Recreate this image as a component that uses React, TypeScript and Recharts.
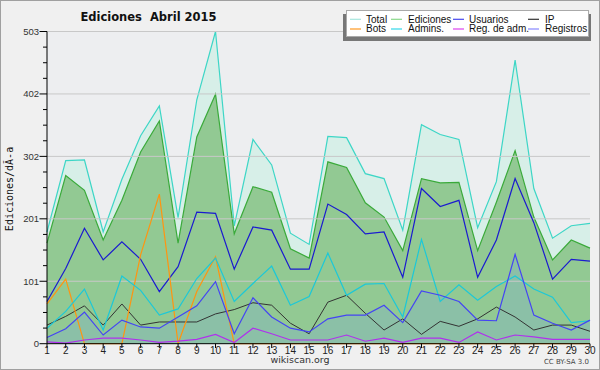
import React from 'react';
import { ComposedChart, Area, Line, XAxis, YAxis, ReferenceLine } from 'recharts';

// días del mes
const days = [1, 2, 3, 4, 5, 6, 7, 8, 9, 10, 11, 12, 13, 14, 15, 16, 17, 18, 19, 20, 21, 22, 23, 24, 25, 26, 27, 28, 29, 30];

// series
const total = [180, 295, 296, 180, 265, 335, 383, 203, 393, 503, 190, 329, 288, 178, 160, 334, 332, 274, 266, 183, 353, 337, 329, 187, 261, 457, 250, 170, 190, 194];
const ediciones = [162, 271, 247, 167, 231, 309, 359, 162, 333, 402, 177, 253, 244, 153, 138, 293, 284, 227, 204, 150, 266, 259, 260, 150, 228, 311, 204, 135, 167, 154];
const usuarios = [68, 121, 186, 135, 164, 136, 84, 124, 212, 210, 120, 188, 183, 120, 120, 225, 208, 177, 180, 107, 250, 221, 231, 107, 167, 266, 195, 104, 136, 133];
const ip = [30, 44, 61, 30, 64, 30, 35, 35, 35, 48, 55, 66, 62, 33, 16, 67, 78, 49, 22, 40, 15, 36, 28, 40, 59, 43, 22, 30, 30, 20];
const bots = [64, 104, 0, 0, 0, 143, 241, 0, 84, 140, 0, 0, 0, 0, 0, 0, 0, 0, 0, 0, 0, 0, 0, 0, 0, 0, 0, 0, 0, 0];
const admins = [25, 52, 88, 22, 109, 86, 46, 56, 105, 138, 68, 97, 125, 62, 76, 146, 78, 96, 97, 43, 168, 68, 95, 70, 92, 109, 88, 75, 34, 37];
const regAdm = [3, 1, 6, 9, 9, 6, 2, 4, 7, 15, 2, 25, 16, 6, 6, 6, 14, 4, 9, 2, 9, 9, 2, 19, 6, 14, 11, 7, 7, 7];
const registros = [10, 24, 51, 14, 38, 27, 25, 43, 61, 100, 16, 74, 43, 25, 19, 40, 46, 46, 62, 34, 85, 78, 68, 38, 37, 144, 46, 33, 22, 38];

// etiquetas del eje Y
const yLabels = ['0', '101', '201', '302', '402', '503'];
const yMax = 503;

const legendItems = [
  { name: 'Total', color: '#a6e6de', col: 0, row: 0 },
  { name: 'Ediciones', color: '#8ad88a', col: 1, row: 0 },
  { name: 'Usuarios', color: '#4848ee', col: 2, row: 0 },
  { name: 'IP', color: '#333333', col: 3, row: 0 },
  { name: 'Bots', color: '#ff9a22', col: 0, row: 1 },
  { name: 'Admins.', color: '#33d8ea', col: 1, row: 1 },
  { name: 'Reg. de adm.', color: '#dd44ee', col: 2, row: 1 },
  { name: 'Registros', color: '#8888ff', col: 3, row: 1 },
];
const legendLineX = [350, 391, 453, 528];
const legendTextX = [366, 408, 469, 545];

const data = days.map((d, i) => ({
  day: d,
  total: total[i],
  ediciones: ediciones[i],
  usuarios: usuarios[i],
  ip: ip[i],
  bots: bots[i],
  admins: admins[i],
  regAdm: regAdm[i],
  registros: registros[i],
}));

// 5 intervalos principales, 4 subdivisiones cada uno
const yTicks = Array.from({ length: 21 }, (_, i) => (yMax * i) / 20);

const YTick = (props: any) => {
  const { y, index } = props;
  const major = index % 4 === 0;
  return (
    <g>
      <line x1={major ? 39.5 : 43} x2={47} y1={y} y2={y} stroke="#000" strokeWidth={1} />
      {major && (
        <text x={39} y={y} dy="0.35em" textAnchor="end" fontSize={9.5} fill="#333" fontFamily="Liberation Sans, sans-serif">
          {yLabels[index / 4]}
        </text>
      )}
    </g>
  );
};

const XTick = (props: any) => {
  const { x, payload } = props;
  return (
    <g>
      <line x1={x} x2={x} y1={343.7} y2={348} stroke="#000" strokeWidth={1} />
      <text x={x} y={353.5} textAnchor="middle" fontSize={10} fill="#222" fontFamily="Liberation Sans, sans-serif">
        {payload.value}
      </text>
    </g>
  );
};

const App = () => {
  return (
    <div style={{ position: 'absolute', left: 0, top: 0, width: 600, height: 370, background: '#f0f0f0' }}>
      <ComposedChart
        width={600}
        height={370}
        data={data}
        margin={{ top: 31.5, right: 10, left: 0, bottom: 0 }}
        style={{ position: 'absolute', left: 0, top: 0 }}
      >
        <rect x={47} y={31.5} width={543} height={312.2} fill="#edeef0" />
        <XAxis
          type="number"
          dataKey="day"
          domain={[1, 30]}
          ticks={days}
          interval={0}
          height={26.3}
          tickLine={false}
          tick={<XTick />}
          axisLine={{ stroke: '#000' }}
        />
        <YAxis
          type="number"
          domain={[0, yMax]}
          ticks={yTicks}
          interval={0}
          width={47}
          tickLine={false}
          tick={<YTick />}
          axisLine={{ stroke: '#000' }}
        />
        {yTicks.filter((_, i) => i % 4 === 0 && i > 0).map((v) => (
          <ReferenceLine key={v} y={v} stroke="#c8c8c8" strokeWidth={1} />
        ))}
        <Area type="linear" dataKey="total" stroke="#3dd6c6" strokeWidth={1.2} fill="#d7efe8" fillOpacity={1} isAnimationActive={false} />
        <Area type="linear" dataKey="ediciones" stroke="#3aaa3a" strokeWidth={1.2} fill="#92c993" fillOpacity={1} isAnimationActive={false} />
        <Area type="linear" dataKey="registros" stroke="none" fill="#70a0f0" fillOpacity={0.22} isAnimationActive={false} />
        <Line type="linear" dataKey="usuarios" stroke="#1a1ad0" strokeWidth={1.2} dot={false} isAnimationActive={false} />
        <Line type="linear" dataKey="ip" stroke="#333333" strokeWidth={1} dot={false} isAnimationActive={false} />
        <Line type="linear" dataKey="bots" stroke="#ff9410" strokeWidth={1.2} dot={false} isAnimationActive={false} />
        <Line type="linear" dataKey="admins" stroke="#1cc8d8" strokeWidth={1.2} dot={false} isAnimationActive={false} />
        <Line type="linear" dataKey="regAdm" stroke="#b030ee" strokeWidth={1.2} dot={false} isAnimationActive={false} />
        <Line type="linear" dataKey="registros" stroke="#4444f4" strokeWidth={1.2} dot={false} isAnimationActive={false} />
      </ComposedChart>
      <svg width={600} height={370} style={{ position: 'absolute', left: 0, top: 0, pointerEvents: 'none' }}>
        <rect x={0.5} y={0.5} width={599} height={369} fill="none" stroke="#a0a0a0" />
        <text x={148.5} y={20.7} textAnchor="middle" fontSize={11.5} fontWeight="bold" fill="#111" fontFamily="DejaVu Sans, sans-serif" style={{ whiteSpace: 'pre' }}>
          Ediciones  Abril 2015
        </text>
        <text transform="translate(13.3,189) rotate(-90)" textAnchor="middle" fontSize={10} fill="#111" fontFamily="DejaVu Sans Mono, monospace">
          Ediciones/dÃ-a
        </text>
        <text x={300} y={363} textAnchor="middle" fontSize={9.5} fill="#333" fontFamily="DejaVu Sans, sans-serif">
          wikiscan.org
        </text>
        <text x={589} y={364} textAnchor="end" fontSize={7} fill="#444" fontFamily="DejaVu Sans, sans-serif">
          CC BY-SA 3.0
        </text>
        {/* leyenda */}
        <rect x={343} y={14} width={248} height={27} fill="#777" />
        <rect x={346.5} y={10.5} width={242} height={26} fill="#fff" stroke="#aaa" />
        {legendItems.map((it) => {
          const ly = it.row === 0 ? 19.3 : 29;
          return (
            <g key={it.name}>
              <line x1={legendLineX[it.col]} x2={legendLineX[it.col] + 11} y1={ly} y2={ly} stroke={it.color} strokeWidth={1.2} />
              <text x={legendTextX[it.col]} y={ly + 3.4} fontSize={10} fill="#111" fontFamily="Liberation Sans, sans-serif">
                {it.name}
              </text>
            </g>
          );
        })}
      </svg>
    </div>
  );
};

export default App;
